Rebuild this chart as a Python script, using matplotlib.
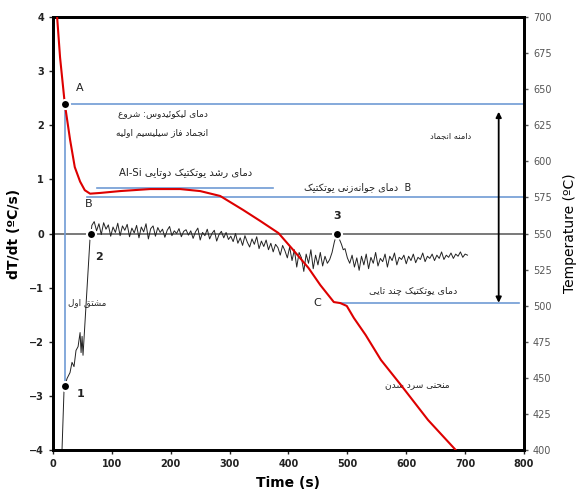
import numpy as np
import matplotlib
matplotlib.use("Agg")
import matplotlib.pyplot as plt

# ---------------- data ----------------
# cooling curve (time s, temperature C)
cool_t = [3, 7, 12, 20, 29, 37, 46, 54, 63, 80, 114, 165, 216, 250, 284, 323,
          352, 383, 408, 434, 454, 477, 488, 499, 511, 531, 557, 591, 637, 684]
cool_T = [705, 700, 672, 640, 615, 596, 586, 580, 577.6, 578.1, 579.4, 580.8,
          580.8, 579.4, 576.0, 566.3, 558.7, 550.3, 538.6, 526.1, 514.3, 502.5,
          501.8, 499.8, 491.5, 479.7, 462.4, 445.0, 420.8, 400.0]

# first derivative: initial rise
d_start_t = [15, 18.7, 20.4, 23.8, 28.9, 32.3, 35.7, 39.1, 42.6, 46, 47.7, 49.4, 51, 63, 64.7]
d_start_v = [-4.1, -2.90, -2.81, -2.68, -2.57, -2.38, -2.46, -2.16, -2.09, -1.83,
             -2.2, -1.9, -2.25, -0.07, 0.02]
# first derivative: sampled every 4 s from t = 66 to 470
d_mid_t0, d_step = 66, 4
d_mid_v = [0.15, 0.22, 0.05, 0.18, -0.02, 0.20, 0.08, 0.16, -0.05, 0.12, 0.02, 0.19, -0.04, 0.14, 0.06, 0.17, -0.06,
           0.10, 0.01, 0.15, -0.08, 0.12, 0.03, 0.18, -0.10, 0.09, 0.14, -0.05, 0.11, 0.02, 0.08, -0.07, 0.06, 0.13,
           -0.04, 0.05, 0.00, 0.09, -0.06, 0.04, 0.07, -0.03,
           0.05, -0.09, 0.03, 0.10, -0.12, 0.02, -0.04, 0.08, -0.10, 0.00, 0.06, -0.14, -0.02, 0.04, -0.08, 0.02, -0.11,
           -0.05, -0.15, 0.00, -0.18, -0.08, -0.22, -0.04, -0.16, -0.25, -0.10, -0.20, -0.06, -0.28, -0.14, -0.24,
           -0.12, -0.30, -0.18, -0.34, -0.20, -0.26, -0.40, -0.22, -0.32, -0.45,
           -0.25, -0.50, -0.30, -0.62, -0.35, -0.45, -0.70, -0.38, -0.55, -0.30, -0.65, -0.40, -0.58, -0.35, -0.60,
           -0.42, -0.55, -0.48]
# eutectic peak (point 3)
d_peak_t = [474, 478, 481, 484, 487, 490, 493, 496, 500]
d_peak_v = [-0.35, -0.15, -0.05, 0.0, -0.12, -0.20, -0.30, -0.28, -0.45]
# after the peak, every 4 s from t = 504 to 704
d_end_t0 = 504
d_end_v = [-0.55, -0.40, -0.62, -0.45, -0.68, -0.42, -0.58, -0.38, -0.65, -0.44,
           -0.55, -0.35, -0.60, -0.46, -0.52, -0.38, -0.62, -0.42, -0.50, -0.36,
           -0.58, -0.44, -0.48, -0.40, -0.56, -0.42, -0.50, -0.38, -0.54, -0.44,
           -0.48, -0.36, -0.52, -0.42, -0.46, -0.38, -0.50, -0.40, -0.46, -0.34,
           -0.48, -0.40, -0.44, -0.36, -0.46, -0.38, -0.42, -0.34, -0.44, -0.38, -0.40]

# characteristic points (time, dT/dt)
pts_t = [20, 20, 65, 483]
pts_v = [2.4, -2.81, 0.0, 0.0]

# ---------------- Persian shaping ----------------
FORMS = {
    '\u0627': ('\uFE8D', '\uFE8E', None, None),
    '\u0622': ('\uFE81', '\uFE82', None, None),
    '\u0628': ('\uFE8F', '\uFE90', '\uFE91', '\uFE92'),
    '\u067E': ('\uFB56', '\uFB57', '\uFB58', '\uFB59'),
    '\u062A': ('\uFE95', '\uFE96', '\uFE97', '\uFE98'),
    '\u062B': ('\uFE99', '\uFE9A', '\uFE9B', '\uFE9C'),
    '\u062C': ('\uFE9D', '\uFE9E', '\uFE9F', '\uFEA0'),
    '\u0686': ('\uFB7A', '\uFB7B', '\uFB7C', '\uFB7D'),
    '\u062D': ('\uFEA1', '\uFEA2', '\uFEA3', '\uFEA4'),
    '\u062E': ('\uFEA5', '\uFEA6', '\uFEA7', '\uFEA8'),
    '\u062F': ('\uFEA9', '\uFEAA', None, None),
    '\u0630': ('\uFEAB', '\uFEAC', None, None),
    '\u0631': ('\uFEAD', '\uFEAE', None, None),
    '\u0632': ('\uFEAF', '\uFEB0', None, None),
    '\u0698': ('\uFB8A', '\uFB8B', None, None),
    '\u0633': ('\uFEB1', '\uFEB2', '\uFEB3', '\uFEB4'),
    '\u0634': ('\uFEB5', '\uFEB6', '\uFEB7', '\uFEB8'),
    '\u0635': ('\uFEB9', '\uFEBA', '\uFEBB', '\uFEBC'),
    '\u0639': ('\uFEC9', '\uFECA', '\uFECB', '\uFECC'),
    '\u0641': ('\uFED1', '\uFED2', '\uFED3', '\uFED4'),
    '\u0642': ('\uFED5', '\uFED6', '\uFED7', '\uFED8'),
    '\u06A9': ('\uFB8E', '\uFB8F', '\uFB90', '\uFB91'),
    '\u06AF': ('\uFB92', '\uFB93', '\uFB94', '\uFB95'),
    '\u0644': ('\uFEDD', '\uFEDE', '\uFEDF', '\uFEE0'),
    '\u0645': ('\uFEE1', '\uFEE2', '\uFEE3', '\uFEE4'),
    '\u0646': ('\uFEE5', '\uFEE6', '\uFEE7', '\uFEE8'),
    '\u0647': ('\uFEE9', '\uFEEA', '\uFEEB', '\uFEEC'),
    '\u0648': ('\uFEED', '\uFEEE', None, None),
    '\u06CC': ('\uFBFC', '\uFBFD', '\uFBFE', '\uFBFF'),
    '\u0626': ('\uFE89', '\uFE8A', '\uFE8B', '\uFE8C'),
}


def fa(text):
    chars = list(text)
    n = len(chars)
    out = []
    for i, c in enumerate(chars):
        if c == '\u200c':
            continue
        if c not in FORMS:
            out.append(c)
            continue
        prev = chars[i - 1] if i > 0 else None
        nxt = chars[i + 1] if i < n - 1 else None
        conn_prev = prev in FORMS and FORMS[prev][2] is not None
        conn_next = (nxt in FORMS) and FORMS[c][2] is not None
        iso, fin, ini, med = FORMS[c]
        if conn_prev and conn_next:
            g = med
        elif conn_prev:
            g = fin
        elif conn_next:
            g = ini
        else:
            g = iso
        out.append(g)
    return ''.join(reversed(out))


txt_liq = "دمای لیکوئیدوس: شروع"
txt_prim = "انجماد فاز سیلیسیم اولیه"
txt_grow = "دمای رشد یوتکتیک دوتایی"
txt_nucl = "دمای جوانه\u200cزنی یوتکتیک"
txt_range = "دامنه انجماد"
txt_deriv = "مشتق اول"
txt_multi = "دمای یوتکتیک چند تایی"
txt_cool = "منحنی سرد شدن"

# ---------------- figure ----------------
fig = plt.figure(figsize=(5.83, 4.93), dpi=100)
ax = fig.add_axes([0.0909, 0.0872, 0.8079, 0.8783])
ax.set_xlim(0, 800)
ax.set_ylim(-4, 4)
ax2 = ax.twinx()
ax2.set_ylim(400, 700)

BLUE = '#6f9bd4'
FAF = 'DejaVu Sans'

# zero line
ax.axhline(0, color='#555555', lw=1.1, zorder=1)

# blue reference lines
ax.plot([20, 20], [-2.81, 2.4], color=BLUE, lw=1.2, zorder=1)
ax.plot([20, 800], [2.4, 2.4], color=BLUE, lw=1.2, zorder=1)
ax.plot([75, 373], [0.85, 0.85], color=BLUE, lw=1.2, zorder=1)
ax.plot([58, 800], [0.667, 0.667], color=BLUE, lw=1.2, zorder=1)
ax.plot([490, 792], [-1.28, -1.28], color=BLUE, lw=1.2, zorder=1)

# derivative curve
mid_t = d_mid_t0 + d_step * np.arange(len(d_mid_v))
end_t = d_end_t0 + d_step * np.arange(len(d_end_v))
d_t = np.concatenate([d_start_t, mid_t, d_peak_t, end_t])
d_v = np.concatenate([d_start_v, d_mid_v, d_peak_v, d_end_v])
ax.plot(d_t, d_v, color='#222222', lw=0.7, zorder=2)

# double arrow: solidification range
ax.annotate('', xy=(757, -1.28), xytext=(757, 2.25),
            arrowprops=dict(arrowstyle='<|-|>', color='black', lw=1.3,
                            mutation_scale=8, shrinkA=0, shrinkB=0))

# texts
fs = 6.5
ax.text(187, 2.22, fa(txt_liq), family=FAF, fontsize=fs, ha='center', va='center', color='#222')
ax.text(185, 1.85, fa(txt_prim), family=FAF, fontsize=fs, ha='center', va='center', color='#222')
ax.text(226, 1.13, "Al-Si " + fa(txt_grow), family=FAF, fontsize=7.3, ha='center', va='center', color='#222')
ax.text(517, 0.85, fa(txt_nucl) + "  B", family=FAF, fontsize=7.0, ha='center', va='center', color='#222')
ax.text(676, 1.81, fa(txt_range), family=FAF, fontsize=6.0, ha='center', va='center', color='#222')
ax.text(58, -1.28, fa(txt_deriv), family=FAF, fontsize=6.3, ha='center', va='center', color='#222')
ax.text(611, -1.05, fa(txt_multi), family=FAF, fontsize=6.8, ha='center', va='center', color='#222')
ax.text(618, -2.81, fa(txt_cool), family=FAF, fontsize=6.5, ha='center', va='center', color='#222')

ax.text(46, 2.68, 'A', fontsize=8, ha='center', va='center', color='#222')
ax.text(60, 0.55, 'B', fontsize=8, ha='center', va='center', color='#222')
ax.text(448, -1.29, 'C', fontsize=8, ha='center', va='center', color='#222')
ax.text(46, -2.96, '1', fontsize=8, fontweight='bold', ha='center', va='center', color='#222')
ax.text(78, -0.44, '2', fontsize=8, fontweight='bold', ha='center', va='center', color='#222')
ax.text(483, 0.33, '3', fontsize=8, fontweight='bold', ha='center', va='center', color='#222')

# cooling curve
ax2.plot(cool_t, cool_T, color='#dd0000', lw=1.5, zorder=3)

# markers on top
ax2.plot(pts_t, pts_v, 'o', color='black', ms=6.5, mec='white', mew=1.5,
         transform=ax.transData, zorder=5, clip_on=False)

# axes styling
for a in (ax, ax2):
    for s in a.spines.values():
        s.set_linewidth(2.0)
        s.set_color('black')

ax.set_xticks(np.arange(0, 801, 100))
ax.set_yticks(np.arange(-4, 5, 1))
ax.tick_params(axis='both', direction='out', length=3, width=1, labelsize=7, colors='#222')
for lab in ax.get_xticklabels() + ax.get_yticklabels():
    lab.set_fontweight('bold')
ax2.set_yticks(np.arange(400, 701, 25))
ax2.tick_params(axis='y', direction='out', length=3, width=1, labelsize=7,
                colors='#555555')

ax.set_xlabel('Time (s)', fontsize=10, fontweight='bold', labelpad=5)
ax.set_ylabel('dT/dt (ºC/s)', fontsize=10, fontweight='bold', labelpad=6)
ax2.set_ylabel('Temperature (ºC)', fontsize=10, labelpad=8)

fig.savefig('out.png', dpi=100)
